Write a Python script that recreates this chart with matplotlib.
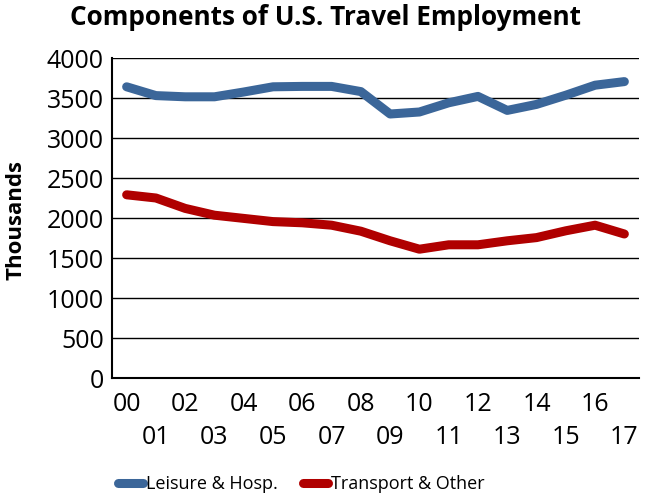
#!/usr/bin/env python3

import matplotlib
matplotlib.use('Agg')
import matplotlib.pyplot as plt

plt.rcParams['font.family'] = ['Open Sans', 'DejaVu Sans']

# Data (thousands of jobs)
years = ['00', '01', '02', '03', '04', '05', '06', '07', '08',
         '09', '10', '11', '12', '13', '14', '15', '16', '17']
leisure = [3640, 3530, 3515, 3515, 3575, 3640, 3645, 3645, 3580,
           3300, 3325, 3440, 3520, 3345, 3420, 3535, 3660, 3705]
transport = [2290, 2250, 2120, 2035, 1995, 1955, 1940, 1910, 1835,
             1715, 1610, 1665, 1665, 1715, 1755, 1840, 1910, 1800]

fig = plt.figure(figsize=(6.48, 4.99), dpi=100)
ax = fig.add_axes([112 / 648, 1 - 378 / 499, 527 / 648, 320 / 499])

x = list(range(len(years)))
ax.plot(x, leisure, color='#3b6699', lw=6.5, solid_capstyle='round',
        solid_joinstyle='round', label='Leisure & Hosp.')
ax.plot(x, transport, color='#b00000', lw=6.5, solid_capstyle='round',
        solid_joinstyle='round', label='Transport & Other')

ax.set_xlim(-0.5, len(years) - 0.5)
ax.set_ylim(0, 4000)
ax.set_yticks(range(0, 4001, 500))
ax.yaxis.grid(True, color='black', lw=1)
ax.set_axisbelow(True)

# staggered year labels
labels = [y if i % 2 == 0 else '\n' + y for i, y in enumerate(years)]
ax.set_xticks(x)
ax.set_xticklabels(labels, fontsize=18, linespacing=1.42)
ax.tick_params(axis='x', length=0, pad=10)
ax.tick_params(axis='y', length=0, pad=6, labelsize=18)

for s in ['top', 'right']:
    ax.spines[s].set_visible(False)
ax.spines['left'].set_linewidth(1.5)
ax.spines['bottom'].set_linewidth(1.5)

fig.text(16 / 648, 1 - 220 / 499, 'Thousands', rotation=90, ha='center',
         va='center', fontsize=16, fontweight='bold')
fig.text(0.502, 0.964, 'Components of U.S. Travel Employment',
         ha='center', va='center', fontsize=18.8, fontweight='bold')

fig.legend(loc='center', bbox_to_anchor=(0.465, 0.03), ncol=2, frameon=False,
           fontsize=13, handlelength=1.4, handletextpad=0.15, columnspacing=1.4)

plt.savefig('out.png', dpi=100)
